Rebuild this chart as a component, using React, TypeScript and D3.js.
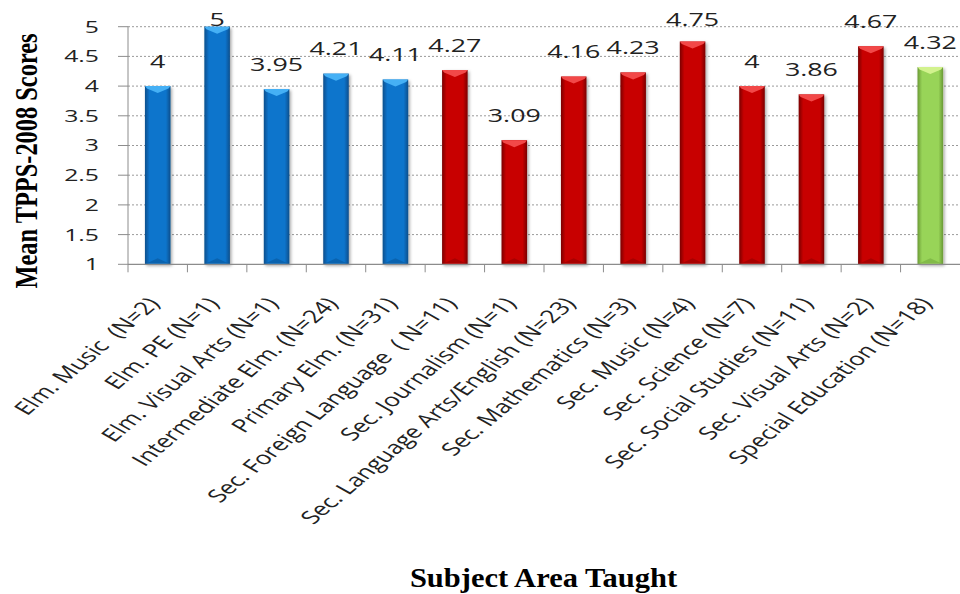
import React from "react";
import * as d3 from "d3";

const categories = [
  "Elm. Music  (N=2)",
  "Elm. PE (N=1)",
  "Elm. Visual Arts (N=1)",
  "Intermediate Elm. (N=24)",
  "Primary Elm. (N=31)",
  "Sec. Foreign Language  ( N=11)",
  "Sec. Journalism (N=1)",
  "Sec. Language Arts/English (N=23)",
  "Sec. Mathematics (N=3)",
  "Sec. Music (N=4)",
  "Sec. Science (N=7)",
  "Sec. Social Studies (N=11)",
  "Sec. Visual Arts (N=2)",
  "Special Education (N=18)",
];
const values = [4, 5, 3.95, 4.21, 4.11, 4.27, 3.09, 4.16, 4.23, 4.75, 4, 3.86, 4.67, 4.32];
const groups = ["elm", "elm", "elm", "elm", "elm", "sec", "sec", "sec", "sec", "sec", "sec", "sec", "sec", "sped"];
const yTicks = [1, 1.5, 2, 2.5, 3, 3.5, 4, 4.5, 5];
const yTitle = "Mean TPPS-2008 Scores";
const xTitle = "Subject Area Taught";

const palette: Record<string, { edge: string; mid: string; top: string; bottom: string }> = {
  elm: { edge: "#0A4F8C", mid: "#0A74CC", top: "#45B0F5", bottom: "#0A5FA8" },
  sec: { edge: "#7A0000", mid: "#C80404", top: "#F24848", bottom: "#A00000" },
  sped: { edge: "#6A9A36", mid: "#98D458", top: "#D2F28E", bottom: "#7DB445" },
};

export default function App() {
  const W = 960, H = 594;
  const x0 = 128, x1 = 960, yTop = 26.7, yBot = 264.3;
  const x = d3.scaleBand<string>().domain(categories).range([x0, x1]).paddingInner(0.57).paddingOuter(0.285);
  const band = d3.scaleBand<string>().domain(categories).range([x0, x1]).padding(0);
  const y = d3.scaleLinear().domain([1, 5]).range([yBot, yTop]);
  const textFont = "'Open Sans', sans-serif";
  const serif = "'Liberation Serif', 'Times New Roman', serif";
  const bw = x.bandwidth();
  const sx = 1.45;

  return (
    <svg width={W} height={H} style={{ position: "absolute", left: 0, top: 0, background: "#fff" }}>
      <defs>
        {Object.keys(palette).map((k) => (
          <linearGradient key={k} id={`g-${k}`} x1="0" x2="1" y1="0" y2="0">
            <stop offset="0" stopColor={palette[k].edge} />
            <stop offset="0.18" stopColor={palette[k].mid} />
            <stop offset="0.82" stopColor={palette[k].mid} />
            <stop offset="1" stopColor={palette[k].edge} />
          </linearGradient>
        ))}
        <filter id="shadow" x="-30%" y="-10%" width="160%" height="120%">
          <feDropShadow dx="1.5" dy="1.5" stdDeviation="1.5" floodColor="#000" floodOpacity="0.35" />
        </filter>
      </defs>

      {/* gridlines */}
      {yTicks.slice(1).map((t) => (
        <line key={t} x1={x0} x2={x1} y1={y(t)} y2={y(t)} stroke="#9A9A9A" strokeWidth={1} strokeDasharray="2,2" />
      ))}
      {/* y ticks */}
      {yTicks.map((t) => (
        <line key={"yt" + t} x1={118} x2={x0} y1={y(t)} y2={y(t)} stroke="#8C8C8C" strokeWidth={1} />
      ))}
      {yTicks.map((t) => (
        <text
          key={"yl" + t}
          transform={`translate(99,${y(t)}) scale(1.5,1)`}
          textAnchor="end"
          dy="0.36em"
          fontFamily={textFont}
          fontSize={16.5}
          fill="#222"
        >
          {d3.format("~g")(t)}
        </text>
      ))}

      {/* bars */}
      {categories.map((c, i) => {
        const p = palette[groups[i]];
        const bx = x(c)!;
        const top = y(values[i]);
        const h = yBot - top;
        return (
          <g key={c}>
            <rect x={bx} y={top} width={bw} height={h} fill={`url(#g-${groups[i]})`} filter="url(#shadow)" />
            <polygon
              points={`${bx},${top} ${bx + bw},${top} ${bx + bw - 2},${top + 2.5} ${bx + bw / 2},${top + 7} ${bx + 2},${top + 2.5}`}
              fill={p.top}
            />
            <polygon
              points={`${bx + 2},${yBot - 1} ${bx + bw / 2},${yBot - 6} ${bx + bw - 2},${yBot - 1}`}
              fill={p.bottom}
              opacity={0.8}
            />
          </g>
        );
      })}

      {/* axes */}
      <line x1={x0} x2={x0} y1={yTop} y2={yBot} stroke="#8C8C8C" strokeWidth={1} />
      <line x1={x0} x2={x1} y1={yBot} y2={yBot} stroke="#8C8C8C" strokeWidth={1.2} />
      {categories.map((c) => (
        <line key={"xt" + c} x1={band(c)!} x2={band(c)!} y1={yBot} y2={yBot + 8} stroke="#8C8C8C" strokeWidth={1} />
      ))}

      {/* value labels */}
      {categories.map((c, i) => {
        const cx = x(c)! + bw / 2;
        const by = Math.max(y(values[i]) - 18.5, 25.5);
        return (
          <text
            key={"v" + c}
            transform={`translate(${cx},${by}) scale(${sx},1)`}
            textAnchor="middle"
            fontFamily={textFont}
            fontSize={18.5}
            fill="#222"
          >
            {d3.format("~g")(values[i])}
          </text>
        );
      })}

      {/* category labels */}
      {categories.map((c) => {
        const cx = band(c)! + band.bandwidth() / 2;
        return (
          <text
            key={"c" + c}
            transform={`translate(${cx + 3},${304}) scale(${sx},1) rotate(-50.6)`}
            textAnchor="end"
            fontFamily={textFont}
            fontSize={18.2}
            fill="#222"
            style={{ whiteSpace: "pre" }}
          >
            {c}
          </text>
        );
      })}

      {/* axis titles */}
      <text
        transform={`translate(37,161) scale(1.3,1) rotate(-90)`}
        textAnchor="middle"
        fontFamily={serif}
        fontWeight="bold"
        fontSize={24.4}
        fill="#000"
      >
        {yTitle}
      </text>
      <text
        transform={`translate(543.5,587) scale(1.13,1)`}
        textAnchor="middle"
        fontFamily={serif}
        fontWeight="bold"
        fontSize={27}
        fill="#000"
      >
        {xTitle}
      </text>
    </svg>
  );
}
